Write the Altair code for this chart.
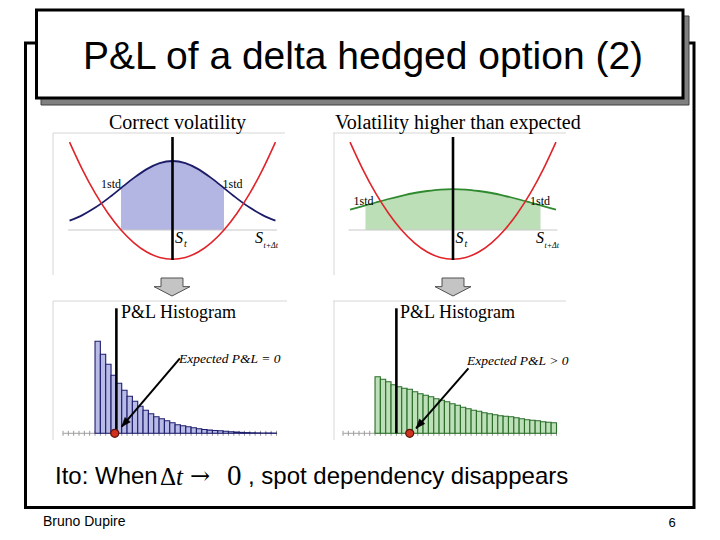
import altair as alt
import pandas as pd

# ---------------- data ----------------
# top panels: spot move in "std of expected vol" units
CURVE_X = [-2.0, -1.75, -1.5, -1.25, -1.0, -0.75, -0.5, -0.25, 0.0,
           0.25, 0.5, 0.75, 1.0, 1.25, 1.5, 1.75, 2.0]
DENSITY_CORRECT = [9.3, 14.9, 22.4, 31.6, 41.9, 52.1, 60.9, 66.9, 69.0,
                   66.9, 60.9, 52.1, 41.9, 31.6, 22.4, 14.9, 9.3]
DENSITY_HIGHER = [20.3, 23.9, 27.5, 31.0, 34.2, 37.0, 39.0, 40.4, 40.8,
                  40.4, 39.0, 37.0, 34.2, 31.0, 27.5, 23.9, 20.3]
GAMMA_PNL = [87.9, 60.4, 36.6, 16.5, 0.0, -12.8, -22.0, -27.5, -29.3,
             -27.5, -22.0, -12.8, 0.0, 16.5, 36.6, 60.4, 87.9]
SHADE_CORRECT_X = [-1.0, -0.75, -0.5, -0.25, 0.0, 0.25, 0.5, 0.75, 1.0]
SHADE_CORRECT_Y = [41.9, 52.1, 60.9, 66.9, 69.0, 66.9, 60.9, 52.1, 41.9]
SHADE_HIGHER_X = [-1.7, -1.5, -1.25, -1.0, -0.75, -0.5, -0.25, 0.0,
                  0.25, 0.5, 0.75, 1.0, 1.25, 1.5, 1.7]
SHADE_HIGHER_Y = [24.6, 27.5, 31.0, 34.2, 37.0, 39.0, 40.4, 40.8,
                  40.4, 39.0, 37.0, 34.2, 31.0, 27.5, 24.6]

# bottom panels: P&L histograms (bins of width 1)
BIN_START = list(range(-4, 30))
HIST_CORRECT = [92, 79, 69, 58, 50, 43, 37, 32, 27, 23, 19.5, 16.5, 14.5, 12.5,
                10.5, 8.5, 7.5, 6.5, 5.5, 4.5, 3.8, 3.2, 2.8, 2.5, 2.0, 1.6,
                1.2, 0.9, 0.7, 0.5, 0.4, 0.3, 0.3, 0.2]
HIST_HIGHER = [56.5, 54, 51.5, 48.5, 46.5, 45, 44, 41.5, 39.5, 38, 36.5, 34.5,
               33, 31.5, 29.5, 28, 26, 24.5, 23, 22, 20.5, 19.5, 18.5, 17.5,
               17, 16.5, 15.5, 14.5, 13.5, 13, 12.5, 11.5, 11, 10.5]
AXIS_TICKS = list(range(-10, 31))
EXPECTED_CORRECT = -0.3
EXPECTED_HIGHER = 2.5
ARROW_CORRECT = {"x": 11.9, "y": 75.0, "x2": 1.0, "y2": 6.6}
ARROW_HIGHER = {"x": 13.5, "y": 65.0, "x2": 3.7, "y2": 5.0}

# ---------------- layout helpers ----------------
W, H = 704, 524
SERIF = "Liberation Serif"
SANS = "Liberation Sans"
ONE = [{}]


def px(v):
    return v - 8


def py(v):
    return v - 8


def rect(x1, y1, x2, y2, **kw):
    return alt.Chart(alt.Data(values=ONE)).mark_rect(**kw).encode(
        x=alt.value(px(x1)), x2=alt.value(px(x2)),
        y=alt.value(py(y1)), y2=alt.value(py(y2)))


def rule(x1, y1, x2, y2, **kw):
    return alt.Chart(alt.Data(values=ONE)).mark_rule(**kw).encode(
        x=alt.value(px(x1)), x2=alt.value(px(x2)),
        y=alt.value(py(y1)), y2=alt.value(py(y2)))


def text(t, x, y, size, font=SANS, align="left", style="normal", weight="normal"):
    return alt.Chart(alt.Data(values=ONE)).mark_text(
        text=t, font=font, fontSize=size, align=align, baseline="middle",
        fontStyle=style, fontWeight=weight, color="black").encode(
        x=alt.value(px(x)), y=alt.value(py(y)))


BLOCK_ARROW = "M-0.61,-0.5 L0.61,-0.5 L0.61,-0.02 L1,-0.02 L0,0.5 L-1,-0.02 L-0.61,-0.02 Z"
ARROW_HEAD = "M0,0 L0.5,1.3 L-0.5,1.3 Z"


def block_arrow(x, y):
    return alt.Chart(alt.Data(values=ONE)).mark_point(
        shape=BLOCK_ARROW, size=1296, filled=True, fill="#c4c4c4",
        stroke="#505050", strokeWidth=1, opacity=1).encode(
        x=alt.value(px(x)), y=alt.value(py(y)))


def curve_panel(x0, x1, density, shade_x, shade_y, line_color, fill_color):
    xs = alt.Scale(domain=[-2.03, 2.03], range=[px(x0), px(x1)], nice=False, zero=False)
    ys = alt.Scale(domain=[-30, 95], range=[py(260), py(135)], nice=False, zero=False)

    def X(f):
        return alt.X(f, type="quantitative", scale=xs, axis=None)

    def Y(f):
        return alt.Y(f, type="quantitative", scale=ys, axis=None)

    curves = pd.DataFrame({"x": CURVE_X, "density": density, "pnl": GAMMA_PNL})
    shade = pd.DataFrame({"x": shade_x, "y": shade_y, "base": 0.0})
    base = pd.DataFrame({"x": [-2.03], "x2": [2.03], "y": [0.0]})
    vline = pd.DataFrame({"x": [0.0], "y": [-30.0], "y2": [93.0]})

    area = alt.Chart(shade).mark_area(color=fill_color, opacity=1, interpolate="monotone").encode(
        x=X("x"), y=Y("y"), y2=alt.Y2("base"))
    baseline = alt.Chart(base).mark_rule(color="#c8c8c8", strokeWidth=1).encode(
        x=X("x"), x2=alt.X2("x2"), y=Y("y"))
    dens = alt.Chart(curves).mark_line(color=line_color, strokeWidth=1.8, interpolate="monotone").encode(
        x=X("x"), y=Y("density"))
    para = alt.Chart(curves).mark_line(color="#e0242a", strokeWidth=1.6, interpolate="monotone").encode(
        x=X("x"), y=Y("pnl"))
    vl = alt.Chart(vline).mark_rule(color="black", strokeWidth=2.6).encode(
        x=X("x"), y=Y("y"), y2=alt.Y2("y2"))
    return alt.layer(area, baseline, dens, para, vl)


def hist_panel(x0, x1, heights, fill, stroke, dot_x, arrow, angle):
    xs = alt.Scale(domain=[-10, 30], range=[px(x0), px(x1)], nice=False, zero=False)
    ys = alt.Scale(domain=[0, 100], range=[py(433.3), py(333.3)], nice=False, zero=False)

    def X(f):
        return alt.X(f, type="quantitative", scale=xs, axis=None)

    def Y(f):
        return alt.Y(f, type="quantitative", scale=ys, axis=None)

    bars = pd.DataFrame({"start": BIN_START, "end": [b + 1 for b in BIN_START],
                         "h": heights, "zero": 0.0})
    ticks = pd.DataFrame({"t": AXIS_TICKS, "lo": -2.5, "hi": 2.5})
    base = pd.DataFrame({"x": [-10.0], "x2": [30.0], "y": [0.0]})
    vline = pd.DataFrame({"x": [0.0], "y": [0.0], "y2": [125.0]})
    dot = pd.DataFrame({"x": [dot_x], "y": [0.0]})
    arr = pd.DataFrame([arrow])

    baseline = alt.Chart(base).mark_rule(color="#a0a0a0", strokeWidth=1).encode(
        x=X("x"), x2=alt.X2("x2"), y=Y("y"))
    tk = alt.Chart(ticks).mark_rule(color="#9a9a9a", strokeWidth=1).encode(
        x=X("t"), y=Y("lo"), y2=alt.Y2("hi"))
    br = alt.Chart(bars).mark_rect(fill=fill, stroke=stroke, strokeWidth=1.1).encode(
        x=X("start"), x2=alt.X2("end"), y=Y("h"), y2=alt.Y2("zero"))
    vl = alt.Chart(vline).mark_rule(color="black", strokeWidth=2.6).encode(
        x=X("x"), y=Y("y"), y2=alt.Y2("y2"))
    dt = alt.Chart(dot).mark_point(shape="circle", filled=True, fill="#d0321e",
                                   stroke="#5a150c", strokeWidth=1.2, size=64, opacity=1).encode(
        x=X("x"), y=Y("y"))
    line = alt.Chart(arr).mark_rule(color="black", strokeWidth=2).encode(
        x=X("x"), y=Y("y"), x2=alt.X2("x2"), y2=alt.Y2("y2"))
    head = alt.Chart(arr).mark_point(shape=ARROW_HEAD, angle=angle, size=200, filled=True,
                                     fill="black", stroke="black", strokeWidth=0.5, opacity=1).encode(
        x=X("x2"), y=Y("y2"))
    return alt.layer(baseline, tk, br, vl, dt, line, head)


# ---------------- assemble ----------------
layers = [
    # slide frame and title box
    rect(25.5, 43, 694, 507.5, fill="white", fillOpacity=0, stroke="black", strokeWidth=3),
    rect(41, 16, 689, 105, fill="#808080", stroke="#404040", strokeWidth=1),
    rect(36.5, 10, 683, 98, fill="white", stroke="black", strokeWidth=3),
    # light panel frames
    rule(53, 133, 285, 133, color="#d6d6d6", strokeWidth=1),
    rule(53, 133, 53, 275, color="#d6d6d6", strokeWidth=1),
    rule(333, 133, 566, 133, color="#d6d6d6", strokeWidth=1),
    rule(334, 133, 334, 275, color="#d6d6d6", strokeWidth=1),
    rule(53, 301, 287, 301, color="#d6d6d6", strokeWidth=1),
    rule(53, 301, 53, 440, color="#d6d6d6", strokeWidth=1),
    rule(333, 301, 566, 301, color="#d6d6d6", strokeWidth=1),
    rule(334, 301, 334, 440, color="#d6d6d6", strokeWidth=1),
    block_arrow(172, 287),
    block_arrow(453, 287),
    curve_panel(68, 277, DENSITY_CORRECT, SHADE_CORRECT_X, SHADE_CORRECT_Y, "#1c1c68", "#b3b6e2"),
    curve_panel(348.5, 557.5, DENSITY_HIGHER, SHADE_HIGHER_X, SHADE_HIGHER_Y, "#2f8a2f", "#bcdfb7"),
    hist_panel(63, 276.5, HIST_CORRECT, "#b8bbe6", "#1e1e6e", EXPECTED_CORRECT, ARROW_CORRECT, 220),
    hist_panel(343, 556.5, HIST_HIGHER, "#bde0b8", "#2a6e2a", EXPECTED_HIGHER, ARROW_HIGHER, 221),
    # texts
    text("P&L of a delta hedged option (2)", 363, 57, 39, align="center"),
    text("Correct volatility", 177.5, 123, 20, font=SERIF, align="center"),
    text("Volatility higher than expected", 335, 123, 20, font=SERIF),
    text("1std", 111, 184, 12, font=SERIF, align="center"),
    text("1std", 232.5, 184, 12, font=SERIF, align="center"),
    text("1std", 363.5, 201, 12, font=SERIF, align="center"),
    text("1std", 540, 201, 12, font=SERIF, align="center"),
    text("S", 179, 238, 16, font=SERIF, align="center", style="italic"),
    text("t", 185.5, 244, 10, font=SERIF, align="center", style="italic"),
    text("S", 259, 238, 16, font=SERIF, align="center", style="italic"),
    text("t+Δt", 263.5, 246, 8, font=SERIF, style="italic"),
    text("S", 459.5, 238, 16, font=SERIF, align="center", style="italic"),
    text("t", 466, 244, 10, font=SERIF, align="center", style="italic"),
    text("S", 540, 238, 16, font=SERIF, align="center", style="italic"),
    text("t+Δt", 544.5, 246, 8, font=SERIF, style="italic"),
    text("P&L Histogram", 178.5, 313, 18, font=SERIF, align="center"),
    text("P&L Histogram", 457.5, 313, 18, font=SERIF, align="center"),
    text("Expected P&L = 0", 179, 359, 13.5, font=SERIF, style="italic"),
    text("Expected P&L > 0", 467, 361, 13.5, font=SERIF, style="italic"),
    text("Ito: When", 55, 477, 24),
    text("Δ", 160, 477, 25, font=SERIF),
    text("t", 176, 477, 25, font=SERIF, style="italic"),
    text("→", 190, 477, 24, font="DejaVu Serif"),
    text("0", 227, 476, 29, font=SERIF),
    text(", spot dependency disappears", 248, 477, 24),
    text("Bruno Dupire", 43, 522, 14),
    text("6", 672, 523, 13, align="center"),
]

chart = alt.layer(*layers).resolve_scale(
    x="independent", y="independent"
).properties(
    width=W, height=H, padding=0,
    autosize=alt.AutoSizeParams(type="none"),
    background="white",
).configure_view(stroke=None)

chart.save("out.html", embed_options={"renderer": "svg", "actions": False})
